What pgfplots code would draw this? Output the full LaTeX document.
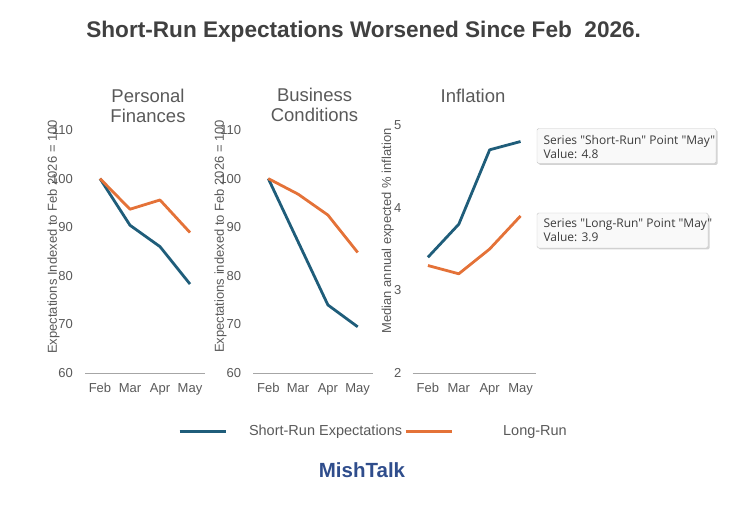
\documentclass[border=0pt]{standalone}
\usepackage{fontspec}
\setmainfont{Liberation Sans}
\newfontfamily\tipfont{Open Sans}
\usepackage{pgfplots}
\pgfplotsset{compat=1.18}
\usetikzlibrary{shadows}
\definecolor{sblue}{RGB}{31,93,122}
\definecolor{lorange}{RGB}{228,114,56}
\definecolor{txtgray}{RGB}{89,89,89}
\definecolor{titlegray}{RGB}{64,64,64}
\definecolor{axisgray}{RGB}{166,166,166}
\definecolor{mishblue}{RGB}{47,77,140}
\definecolor{boxfill}{RGB}{249,249,249}
\definecolor{boxline}{RGB}{200,200,200}
\definecolor{tiptext}{RGB}{60,60,60}
\pgfplotsset{
 panel/.style={
  scale only axis, height=243pt,
  xmin=-0.5, xmax=3.5,
  xtick={0,1,2,3}, xticklabels={Feb,Mar,Apr,May},
  axis lines*=left,
  y axis line style={draw=none},
  x axis line style={draw=axisgray, line width=0.8pt, -},
  major tick length=0pt, tick style={draw=none},
  ticklabel style={font=\fontsize{13}{13}\selectfont, text=txtgray},
  /pgf/number format/assume math mode=true,
  xticklabel style={anchor=north, inner sep=0pt, yshift=-10pt},
  yticklabel style={anchor=east, inner sep=0pt},
  label style={font=\fontsize{13}{13}\selectfont, text=txtgray},
  ylabel style={anchor=center},
  title style={font=\fontsize{18.5}{20}\selectfont, text=txtgray, align=center, anchor=center},
  every axis plot/.append style={line width=2.8pt, line join=round, no markers},
  clip=false,
 }}
\begin{document}
\begin{tikzpicture}
\path[use as bounding box] (0pt,0pt) rectangle (736pt,510pt);

\begin{axis}[panel, at={(85pt,137pt)}, anchor=south west, width=120pt,
  ymin=60, ymax=110, ytick={60,70,80,90,100,110},
  yticklabel style={xshift=-12pt},
  ylabel={Expectations Indexed to Feb 2026 = 100},
  ylabel style={at={(axis description cs:-0.262,0.56)}},
  title={Personal\\Finances},
  title style={at={(axis description cs:0.525,1.074)}}]
\addplot[sblue] coordinates {(0,100) (1,90.4) (2,86.0) (3,78.3)};
\addplot[lorange] coordinates {(0,100) (1,93.7) (2,95.6) (3,88.9)};
\end{axis}

\begin{axis}[panel, at={(253.4pt,137pt)}, anchor=south west, width=119.2pt,
  ymin=60, ymax=110, ytick={60,70,80,90,100,110},
  yticklabel style={xshift=-12pt},
  ylabel={Expectations indexed to Feb 2026 = 100},
  ylabel style={at={(axis description cs:-0.275,0.562)}},
  title={Business\\Conditions},
  title style={at={(axis description cs:0.513,1.077)}}]
\addplot[sblue] coordinates {(0,100) (1,87.0) (2,74.0) (3,69.5)};
\addplot[lorange] coordinates {(0,100) (1,96.8) (2,92.5) (3,84.8)};
\end{axis}

\begin{axis}[panel, at={(412.5pt,137pt)}, anchor=south west, width=123.5pt, height=248pt,
  ymin=2, ymax=5, ytick={2,3,4,5},
  yticklabel style={xshift=-11pt},
  ylabel={Median annual expected \% inflation},
  ylabel style={at={(axis description cs:-0.200,0.5726)}},
  title={Inflation},
  title style={at={(axis description cs:0.49,1.093)}},
  legend columns=2,
  legend cell align=left,
  legend image code/.code={\draw[#1, line width=3pt] (0pt,0pt) -- (46pt,0pt);},
  legend style={at={(axis description cs:-1.8988,-0.2339)}, anchor=west,
    draw=none, fill=none, inner sep=0pt, outer sep=0pt,
    font=\fontsize{14.5}{14.5}\selectfont, text=txtgray,
    nodes={inner sep=0pt},
    /tikz/every odd column/.append style={column sep=22pt},
    /tikz/every even column/.append style={column sep=2pt}},
  legend entries={Short-Run Expectations, \hspace*{28pt}Long-Run}]
\addplot[sblue] coordinates {(0,3.4) (1,3.8) (2,4.7) (3,4.8)};
\addplot[lorange] coordinates {(0,3.3) (1,3.2) (2,3.5) (3,3.9)};
\end{axis}

\node[anchor=base, inner sep=0pt, font=\fontsize{22.6}{22.6}\selectfont\bfseries, text=titlegray]
  at (363.7pt,472pt) {Short-Run Expectations Worsened Since Feb\ \ 2026.};
\node[anchor=base, inner sep=0pt, font=\fontsize{20.5}{20.5}\selectfont\bfseries, text=mishblue]
  at (362pt,32.7pt) {MishTalk};

\path[draw=boxline, fill=boxfill, rounded corners=1.5pt,
  drop shadow={shadow xshift=1.5pt, shadow yshift=-1.5pt, opacity=0.35}]
  (537pt,346.5pt) rectangle (716pt,381.5pt);
\node[anchor=west, inner sep=0pt, align=left, font=\tipfont\fontsize{12}{14}\selectfont, text=tiptext]
  at (543.3pt,362.7pt) {Series "Short-Run" Point "May"\\Value: 4.8};

\path[draw=boxline, fill=boxfill, rounded corners=1.5pt,
  drop shadow={shadow xshift=1.5pt, shadow yshift=-1.5pt, opacity=0.35}]
  (537pt,262pt) rectangle (708pt,297pt);
\node[anchor=west, inner sep=0pt, align=left, font=\tipfont\fontsize{12}{14}\selectfont, text=tiptext]
  at (543.3pt,279.7pt) {Series "Long-Run" Point "May"\\Value: 3.9};
\end{tikzpicture}
\end{document}
